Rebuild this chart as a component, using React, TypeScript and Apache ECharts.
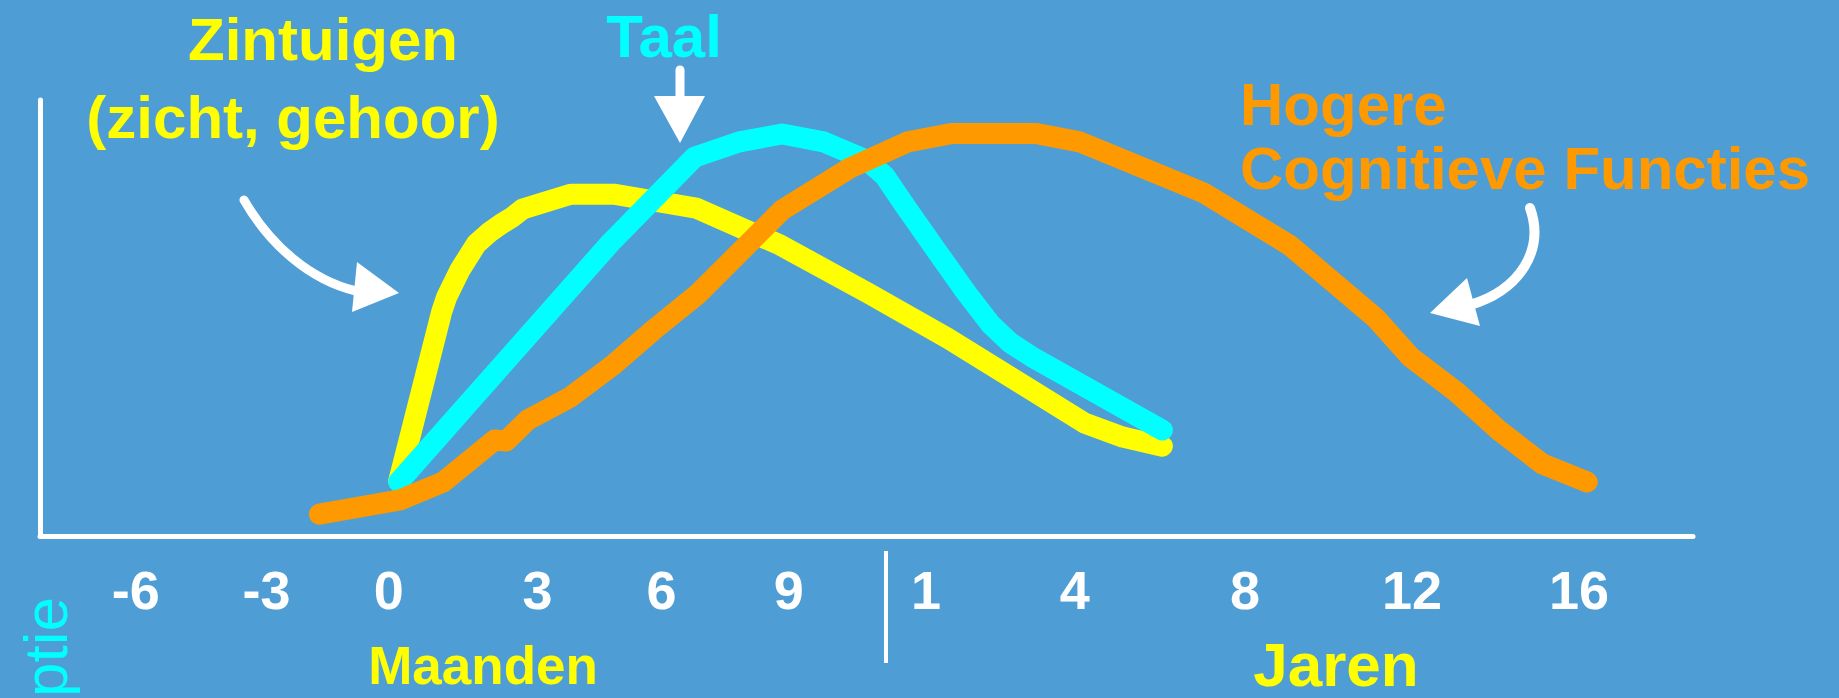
import React, { useEffect, useRef } from 'react';
import * as echarts from 'echarts';

// x-axis: position along a mixed age axis (months, then years), 0..100
const TICK_LABELS = ['-6', '-3', '0', '3', '6', '9', '1', '4', '8', '12', '16'];
const TICK_POS = [5.8, 13.7, 21.1, 30.1, 37.6, 45.3, 53.6, 62.6, 72.9, 83.0, 93.1];

// development level (0..100)
const ZINTUIGEN = [
  [21.7, 12.6], [24.3, 51.4], [24.6, 54.8], [25.4, 61.0], [26.4, 67.0], [27.2, 69.7],
  [28.0, 71.8], [28.6, 73.2], [29.2, 75.0], [32.1, 78.4], [34.7, 78.4], [39.7, 75.2],
  [44.8, 66.7], [50.1, 55.7], [54.9, 45.4], [63.2, 25.9], [65.5, 22.7], [67.9, 20.6],
];
const TAAL = [
  [21.7, 12.4], [34.5, 67.2], [39.6, 86.9], [42.3, 90.4], [44.9, 92.2], [47.4, 90.4],
  [50.0, 86.2], [51.1, 82.6], [52.3, 75.9], [54.3, 65.1], [56.0, 56.0], [57.5, 48.6],
  [58.7, 44.3], [60.0, 41.1], [67.9, 24.3],
];
const HOGERE = [
  [16.9, 5.0], [21.8, 8.3], [24.4, 12.4], [27.5, 22.0], [28.2, 21.8], [29.5, 26.6],
  [32.1, 31.9], [34.6, 39.0], [37.1, 47.2], [39.8, 55.5], [44.9, 74.8], [49.0, 84.4],
  [52.5, 90.4], [55.1, 92.3], [60.3, 92.3], [62.9, 90.4], [70.4, 78.7], [75.6, 66.7],
  [80.8, 50.0], [82.9, 41.1], [85.7, 33.0], [88.3, 24.1], [90.9, 16.5], [93.6, 12.4],
];

const BG = '#4F9DD5';
const YELLOW = '#FFFF00';
const CYAN = '#00FFFF';
const ORANGE = '#FF9900';
const WHITE = '#FFFFFF';
const FAMILY = '"Liberation Sans", Arial, sans-serif';

export default function App() {
  const ref = useRef<HTMLDivElement>(null);
  useEffect(() => {
    document.body.style.margin = '0';
    document.body.style.overflow = 'hidden';
    const chart = echarts.init(ref.current!, null, { renderer: 'svg' });
    const bold = (s: number) => `bold ${s}px ${FAMILY}`;
    const lineSeries = (name: string, data: number[][], color: string) => ({
      type: 'line',
      name,
      data,
      symbol: 'none',
      showSymbol: false,
      silent: true,
      clip: false,
      lineStyle: { color, width: 21, cap: 'round', join: 'round' },
    });
    const label = (v: number) => {
      let best = -1;
      let d = 1e9;
      TICK_POS.forEach((p, i) => {
        if (Math.abs(p - v) < d) { d = Math.abs(p - v); best = i; }
      });
      return d < 0.01 ? TICK_LABELS[best] : '';
    };
    chart.setOption({
      animation: false,
      backgroundColor: BG,
      grid: { left: 40, right: 146, top: 100, bottom: 162 },
      xAxis: {
        type: 'value',
        min: 0,
        max: 100,
        axisLine: { show: true, onZero: false, lineStyle: { color: WHITE, width: 5 } },
        axisTick: { show: false },
        splitLine: { show: false },
        axisLabel: {
          customValues: TICK_POS,
          formatter: label,
          color: WHITE,
          fontSize: 54,
          fontWeight: 'bold',
          fontFamily: FAMILY,
          margin: 27,
        },
      },
      yAxis: {
        type: 'value',
        min: 0,
        max: 100,
        axisLine: { show: true, onZero: false, lineStyle: { color: WHITE, width: 5 } },
        axisTick: { show: false },
        axisLabel: { show: false },
        splitLine: { show: false },
      },
      series: [
        lineSeries('Zintuigen', ZINTUIGEN, YELLOW),
        lineSeries('Taal', TAAL, CYAN),
        lineSeries('Hogere Cognitieve Functies', HOGERE, ORANGE),
      ],
      graphic: [
        { type: 'text', x: 323, y: 39, style: { text: 'Zintuigen', fill: YELLOW, font: bold(60), align: 'center', verticalAlign: 'middle' } },
        { type: 'text', x: 293, y: 117, style: { text: '(zicht, gehoor)', fill: YELLOW, font: bold(60), align: 'center', verticalAlign: 'middle' } },
        { type: 'text', x: 664, y: 36, style: { text: 'Taal', fill: CYAN, font: bold(60), align: 'center', verticalAlign: 'middle' } },
        { type: 'text', x: 1240, y: 104, style: { text: 'Hogere', fill: ORANGE, font: bold(60), align: 'left', verticalAlign: 'middle' } },
        { type: 'text', x: 1240, y: 168, style: { text: 'Cognitieve Functies', fill: ORANGE, font: bold(60), align: 'left', verticalAlign: 'middle' } },
        { type: 'text', x: 483, y: 665, style: { text: 'Maanden', fill: YELLOW, font: bold(53), align: 'center', verticalAlign: 'middle' } },
        { type: 'text', x: 1336, y: 664, style: { text: 'Jaren', fill: YELLOW, font: bold(62), align: 'center', verticalAlign: 'middle' } },
        { type: 'text', x: 45, y: 647, rotation: Math.PI / 2, style: { text: 'ptie', fill: CYAN, font: `62px ${FAMILY}`, align: 'center', verticalAlign: 'middle' } },
        // separator months / years
        { type: 'line', shape: { x1: 886, y1: 551, x2: 886, y2: 663 }, style: { stroke: WHITE, lineWidth: 4 } },
        // Taal arrow
        { type: 'line', shape: { x1: 680, y1: 70, x2: 680, y2: 100 }, style: { stroke: WHITE, lineWidth: 9, lineCap: 'round' } },
        { type: 'polygon', shape: { points: [[654, 96], [705, 96], [680, 143]] }, style: { fill: WHITE } },
        // Zintuigen arrow
        { type: 'bezierCurve', shape: { x1: 244, y1: 200, cpx1: 270, cpy1: 245, cpx2: 310, cpy2: 280, x2: 356, y2: 291 }, style: { stroke: WHITE, lineWidth: 9, fill: null, lineCap: 'round' } },
        { type: 'polygon', shape: { points: [[357, 262], [399, 293], [352, 312]] }, style: { fill: WHITE } },
        // Cognitieve arrow
        { type: 'bezierCurve', shape: { x1: 1530, y1: 208, cpx1: 1545, cpy1: 250, cpx2: 1520, cpy2: 290, x2: 1470, y2: 305 }, style: { stroke: WHITE, lineWidth: 10, fill: null, lineCap: 'round' } },
        { type: 'polygon', shape: { points: [[1467, 278], [1480, 326], [1430, 313]] }, style: { fill: WHITE } },
      ],
    });
    return () => chart.dispose();
  }, []);
  return <div ref={ref} style={{ width: 1839, height: 698 }} />;
}
